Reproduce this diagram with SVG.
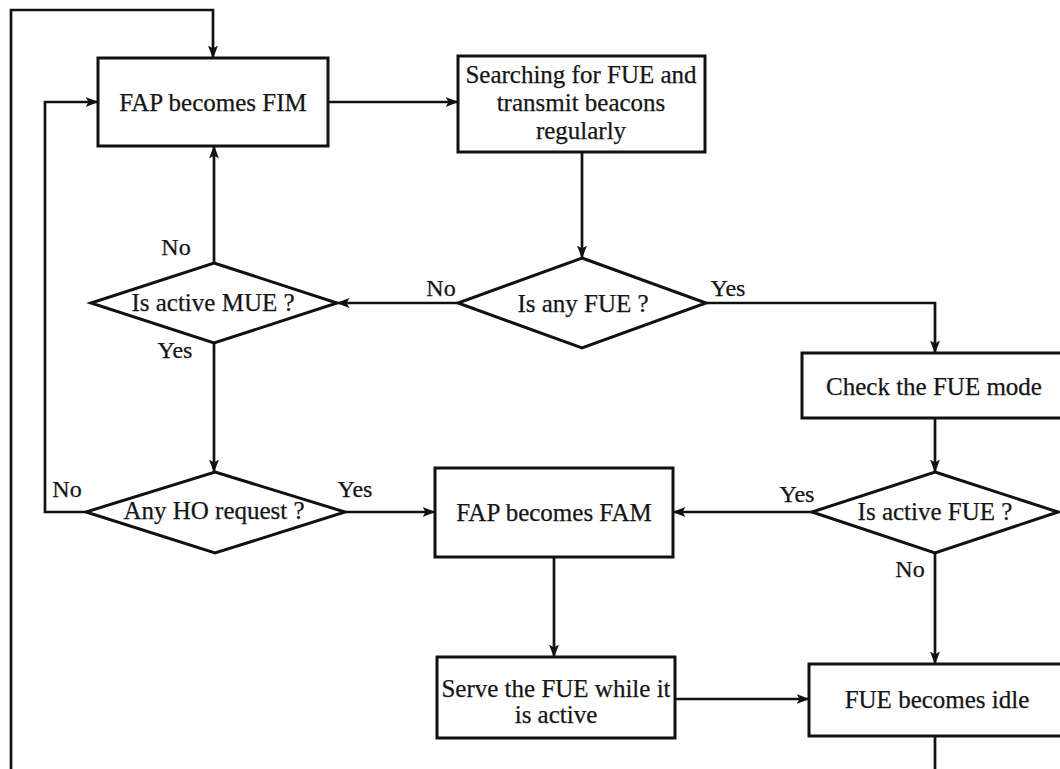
<svg xmlns="http://www.w3.org/2000/svg" width="1060" height="769" viewBox="0 0 1060 769">
  <style>
    .box { fill: #ffffff; stroke: #111111; stroke-width: 3; }
    .link { fill: none; stroke: #111111; stroke-width: 2.7; }
    .txt { font-family: "Liberation Serif", "Times New Roman", serif; font-size: 25px; fill: #151515; stroke: #151515; stroke-width: 0.25; text-anchor: middle; }
    .lbl { font-family: "Liberation Serif", "Times New Roman", serif; font-size: 24px; fill: #151515; stroke: #151515; stroke-width: 0.25; text-anchor: middle; }
  </style>
  <defs>
    <marker id="arrow" viewBox="0 0 13 10" refX="12.5" refY="5" markerWidth="13" markerHeight="10" markerUnits="userSpaceOnUse" orient="auto">
      <path d="M0,0 L13,5 L0,10 L3,5 Z" fill="#111111"/>
    </marker>
  </defs>

  <rect width="1060" height="769" fill="#ffffff"/>

  <!-- connectors -->
  <g id="connectors">
    <!-- return loop: idle state back to FIM -->
    <path class="link" d="M935,736 V800 H11 V10 H213 V58" marker-end="url(#arrow)"/>
    <path class="link" d="M328,102 H458" marker-end="url(#arrow)"/>
    <path class="link" d="M582,152 V258" marker-end="url(#arrow)"/>
    <path class="link" d="M458,303 H337" marker-end="url(#arrow)"/>
    <path class="link" d="M706,303 H935 V353" marker-end="url(#arrow)"/>
    <path class="link" d="M214,263 V146" marker-end="url(#arrow)"/>
    <path class="link" d="M214,343 V472" marker-end="url(#arrow)"/>
    <path class="link" d="M86,512 H45 V102 H98" marker-end="url(#arrow)"/>
    <path class="link" d="M345,512 H435" marker-end="url(#arrow)"/>
    <path class="link" d="M935,418 V472" marker-end="url(#arrow)"/>
    <path class="link" d="M812,512 H673" marker-end="url(#arrow)"/>
    <path class="link" d="M935,553 V664" marker-end="url(#arrow)"/>
    <path class="link" d="M554,557 V657" marker-end="url(#arrow)"/>
    <path class="link" d="M675,699 H809" marker-end="url(#arrow)"/>

    <!-- branch labels -->
    <text class="lbl" x="176" y="255">No</text>
    <text class="lbl" x="175" y="358">Yes</text>
    <text class="lbl" x="441" y="296">No</text>
    <text class="lbl" x="728" y="296">Yes</text>
    <text class="lbl" x="67" y="497">No</text>
    <text class="lbl" x="355" y="497">Yes</text>
    <text class="lbl" x="797" y="502">Yes</text>
    <text class="lbl" x="910" y="577">No</text>
  </g>

  <g id="fim">
    <rect class="box" x="98" y="58" width="230" height="88"/>
    <text class="txt" x="213" y="111">FAP becomes FIM</text>
  </g>

  <g id="search">
    <rect class="box" x="458" y="56" width="247" height="96"/>
    <text class="txt" x="581" y="83">Searching for FUE and</text>
    <text class="txt" x="581" y="111">transmit beacons</text>
    <text class="txt" x="581" y="139">regularly</text>
  </g>

  <g id="any-fue">
    <polygon class="box" points="582,258 706,303 582,348 458,303"/>
    <text class="txt" x="583" y="312">Is any FUE ?</text>
  </g>

  <g id="active-mue">
    <polygon class="box" points="214,263 337,303 214,343 91,303"/>
    <text class="txt" x="213" y="311">Is active MUE ?</text>
  </g>

  <g id="ho-request">
    <polygon class="box" points="215,472 345,512 215,553 86,512"/>
    <text class="txt" x="214" y="519">Any HO request ?</text>
  </g>

  <g id="check-mode">
    <rect class="box" x="802" y="353" width="266" height="65"/>
    <text class="txt" x="934" y="395">Check the FUE mode</text>
  </g>

  <g id="active-fue">
    <polygon class="box" points="935,472 1058,512 935,553 812,512"/>
    <text class="txt" x="935" y="520">Is active FUE ?</text>
  </g>

  <g id="fam">
    <rect class="box" x="435" y="468" width="238" height="89"/>
    <text class="txt" x="554" y="521">FAP becomes FAM</text>
  </g>

  <g id="serve">
    <rect class="box" x="437" y="657" width="238" height="81"/>
    <text class="txt" x="556" y="697">Serve the FUE while it</text>
    <text class="txt" x="556" y="723">is active</text>
  </g>

  <g id="idle">
    <rect class="box" x="809" y="664" width="260" height="72"/>
    <text class="txt" x="937" y="708">FUE becomes idle</text>
  </g>
</svg>
